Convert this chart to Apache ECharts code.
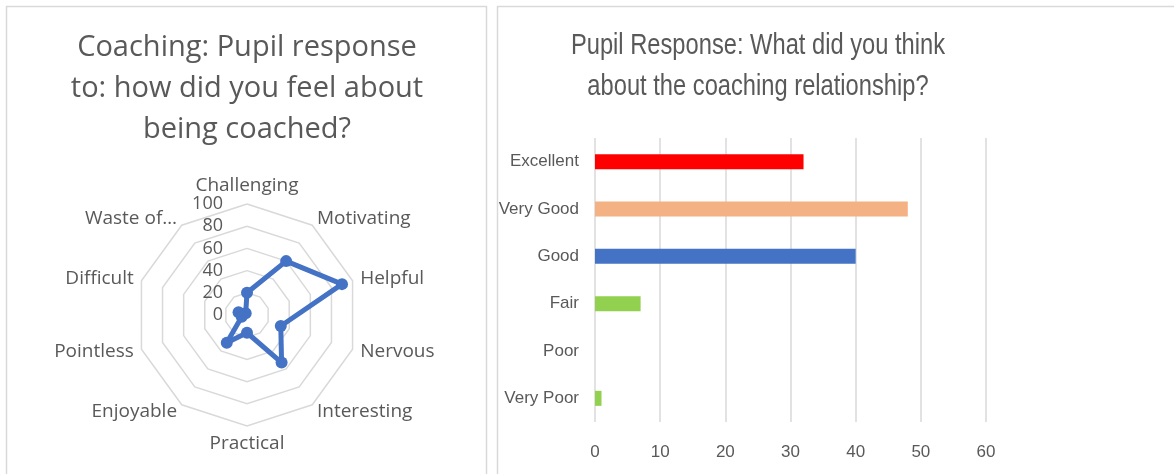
<!DOCTYPE html>
<html lang="en">
<head>
<meta charset="UTF-8" />
<title>Coaching pupil response</title>
<script src="https://cdn.jsdelivr.net/npm/echarts@6.0.0/dist/echarts.min.js"></script>
<style>
    body { margin: 0; background: #fff; }
    #chart { width: 1174px; height: 474px; }
</style>
</head>
<body>
<div id="chart"></div>
<script>
// radar: how did you feel about being coached? (clockwise from the top)
const feelings = ['Challenging', 'Motivating', 'Helpful', 'Nervous', 'Interesting',
                  'Practical', 'Enjoyable', 'Pointless', 'Difficult', 'Waste of…'];
const feelingValues = [20, 60, 90, 32, 53, 16, 31, 5, 8, 2];

// bar: what did you think about the coaching relationship?
const ratings = ['Excellent', 'Very Good', 'Good', 'Fair', 'Poor', 'Very Poor'];
const ratingValues = [32, 48, 40, 7, 0, 1];
const ratingColors = ['#ff0000', '#f4b183', '#4472c4', '#92d050', '#92d050', '#92d050'];

const grey = '#595959';
const sans = '"Open Sans", "Noto Sans", sans-serif';
const plain = '"Liberation Sans", Arial, sans-serif';

// echarts lays radar axes out counter-clockwise, so flip everything after the first
const order = [0].concat(feelings.map((_, i) => i).slice(1).reverse());
const radarNames = order.map(i => feelings[i]);
const radarValues = order.map(i => feelingValues[i]);

const chart = echarts.init(document.getElementById('chart'));

chart.setOption({
    animation: false,
    title: {
        text: 'Coaching: Pupil response\nto: how did you feel about\nbeing coached?',
        left: 247, top: 27, textAlign: 'center', padding: 0,
        textStyle: { fontFamily: sans, fontSize: 29, fontWeight: 'normal', color: grey, lineHeight: 41 }
    },
    graphic: [
        { type: 'polyline', shape: { points: [[6.5, 474], [6.5, 6.5], [486.5, 6.5], [486.5, 474]] },
          style: { stroke: '#d9d9d9', lineWidth: 1.5, fill: null } },
        { type: 'polyline', shape: { points: [[497.5, 474], [497.5, 6.5], [1174, 6.5]] },
          style: { stroke: '#d9d9d9', lineWidth: 1.5, fill: null } },
        // the second title is drawn in a squeezed face, like the original
        { type: 'text', x: 758, y: 25, scaleX: 0.79,
          style: { text: 'Pupil Response: What did you think\nabout the coaching relationship?',
                   font: '30px ' + plain, fill: grey, align: 'center', lineHeight: 41 } }
    ],
    radar: {
        center: [247, 315],
        radius: 111,
        startAngle: 90,
        shape: 'polygon',
        splitNumber: 5,
        nameGap: 8,
        indicator: radarNames.map((f, i) => ({
            name: f, min: 0, max: 100,
            axisLabel: i === 0 ? { show: true } : undefined
        })),
        axisName: { color: grey, fontFamily: sans, fontSize: 19 },
        axisLine: { show: false },
        splitArea: { show: false },
        splitLine: { lineStyle: { color: '#d9d9d9', width: 1.5 } },
        axisLabel: { show: false, color: grey, fontFamily: sans, fontSize: 18, showMinLabel: true, margin: 24 }
    },
    grid: { left: 595, right: 188, top: 138, bottom: 52 },
    xAxis: {
        type: 'value', min: 0, max: 60, interval: 10,
        axisLine: { show: false }, axisTick: { show: false },
        splitLine: { lineStyle: { color: '#d9d9d9', width: 1.5 } },
        axisLabel: { color: grey, fontFamily: plain, fontSize: 17, margin: 22 }
    },
    yAxis: {
        type: 'category', data: ratings, inverse: true,
        axisLine: { show: false }, axisTick: { show: false },
        axisLabel: { color: grey, fontFamily: plain, fontSize: 17, margin: 16 }
    },
    series: [
        {
            type: 'radar',
            symbol: 'circle', symbolSize: 12,
            lineStyle: { color: '#4472c4', width: 5 },
            itemStyle: { color: '#4472c4' },
            data: [{ value: radarValues }]
        },
        {
            type: 'bar',
            barWidth: 15,
            data: ratingValues.map((v, i) => ({ value: v, itemStyle: { color: ratingColors[i] } }))
        }
    ]
});
</script>
</body>
</html>
